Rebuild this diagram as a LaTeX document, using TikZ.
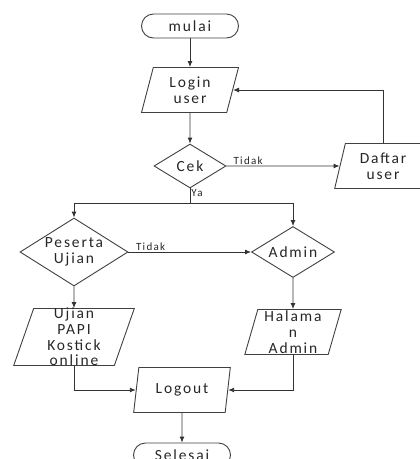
\documentclass[tikz,border=0pt]{standalone}
\usepackage{fontspec}
\setmainfont{Carlito}[LetterSpace=12]
\usetikzlibrary{arrows.meta, positioning, calc, shapes.geometric}

\begin{document}
\begin{tikzpicture}[
    x=1pt, y=-1pt,
    term/.style={rectangle, rounded corners=12pt, draw=black!75, line width=0.9pt, minimum width=97pt, minimum height=24pt, inner sep=0pt, text=black!85, font=\fontsize{15.5}{15.7}\selectfont},
    io/.style={trapezium, trapezium left angle=76, trapezium right angle=104, trapezium stretches=true, draw=black!75, line width=0.9pt, minimum width=97pt, minimum height=45pt, inner sep=0pt, align=center, text=black!85, font=\fontsize{15.5}{15.7}\selectfont},
    decision/.style={diamond, shape aspect=1.6, draw=black!75, line width=0.9pt, inner sep=-6pt, align=center, text=black!85, font=\fontsize{15.5}{15.7}\selectfont},
    arrow/.style={-{Latex[length=6pt, width=5pt]}, line width=0.9pt, draw=black!80},
    line/.style={line width=0.9pt, draw=black!80},
    lbl/.style={font=\fontsize{11}{12}\selectfont, text=black!85, inner sep=1pt}
]
    \useasboundingbox (0,0) rectangle (420,459);

    % Nodes
    \node[term] (mulai) at (190,26) {mulai};
    \node[io] (login) at (190,90) {Login\\user};
    \node[decision, minimum width=72pt, minimum height=44pt] (cek) at (190,166) {Cek};
    \node[io] (daftar) at (383,166) {Daftar\\user};
    \node[decision, minimum width=108pt, minimum height=68pt] (peserta) at (74,252) {Peserta\\Ujian};
    \node[decision, minimum width=83pt, minimum height=51pt] (admin) at (293,252) {Admin};
    \node[io, minimum width=121pt, minimum height=57pt, inner ysep=-2.5pt] (ujian) at (74,337) {Ujian\\PAPI\\Kostick\\online};
    \node[io] (halaman) at (293,332) {Halama\\n\\Admin};
    \node[io] (logout) at (182,390) {Logout};
    \node[term] (selesai) at (182,455) {Selesai};

    % Login and check
    \draw[arrow] (mulai) -- (login);
    \draw[arrow] (login) -- (cek);
    \draw[arrow] (cek.east) -- node[lbl, anchor=south west, pos=0.05] {Tidak} (daftar.west);
    \draw[arrow] (daftar.north) |- (login.east);

    % Split on Ya
    \coordinate (split) at ($(cek.south)+(0,15)$);
    \draw[line] (cek.south) -- node[lbl, anchor=north west, pos=0] {Ya} (split);
    \draw[arrow] (split) -| (peserta.north);
    \draw[arrow] (split) -| (admin.north);

    % Peserta or admin
    \draw[arrow] (peserta.east) -- node[lbl, anchor=south west, pos=0.05] {Tidak} (admin.west);
    \draw[arrow] (peserta.south) -- (ujian.north);
    \draw[arrow] (admin.south) -- (halaman.north);

    % Logout
    \draw[arrow] (ujian.south) |- (logout.west);
    \draw[arrow] (halaman.south) |- (logout.east);
    \draw[arrow] (logout) -- (selesai);

\end{tikzpicture}
\end{document}
